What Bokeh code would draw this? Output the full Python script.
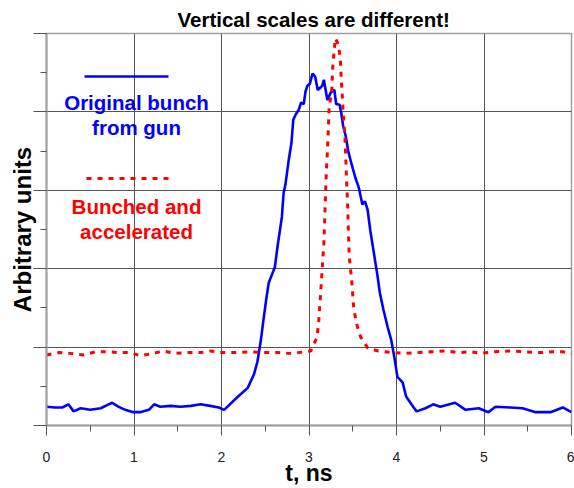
from bokeh.plotting import figure
from bokeh.models import Label, Arrow, Range1d, SingleIntervalTicker, CustomLabelingPolicy
from bokeh.embed import file_html
from bokeh.resources import INLINE

# ---------------- data ----------------
title_text = "Vertical scales are different!"
x_label = "t, ns"
y_label = "Arbitrary units"
gun_label = ["Original bunch", "from gun"]
acc_label = ["Bunched and", "accelerated"]

t_gun = [0.00, 0.10, 0.18, 0.25, 0.31, 0.39, 0.50, 0.62, 0.71, 0.75, 0.82, 0.90, 0.99,
         1.07, 1.17, 1.23, 1.30, 1.42, 1.53, 1.65, 1.76, 1.87, 1.97, 2.03, 2.18, 2.30,
         2.37, 2.41, 2.45, 2.48, 2.51, 2.54, 2.61, 2.64, 2.69, 2.71, 2.73, 2.77, 2.80,
         2.82, 2.85, 2.88, 2.91, 2.94, 2.96, 2.98, 3.01, 3.04, 3.07, 3.10, 3.15, 3.17,
         3.19, 3.21, 3.25, 3.29, 3.31, 3.35, 3.37, 3.39, 3.42, 3.45, 3.49, 3.53, 3.57,
         3.61, 3.64, 3.67, 3.70, 3.74, 3.78, 3.81, 3.85, 3.90, 3.94, 3.98, 4.01, 4.07,
         4.11, 4.19, 4.23, 4.33, 4.42, 4.50, 4.67, 4.79, 4.94, 5.05, 5.13, 5.30, 5.44,
         5.59, 5.76, 5.90, 6.00]
v_gun = [0.24, 0.23, 0.23, 0.27, 0.18, 0.22, 0.20, 0.22, 0.27, 0.29, 0.24, 0.20, 0.17,
         0.17, 0.20, 0.27, 0.24, 0.25, 0.24, 0.25, 0.27, 0.25, 0.23, 0.20, 0.36, 0.48,
         0.65, 0.81, 1.09, 1.35, 1.60, 1.82, 2.02, 2.28, 2.66, 2.97, 3.07, 3.40, 3.61,
         3.90, 3.97, 4.02, 4.12, 4.10, 4.26, 4.33, 4.36, 4.49, 4.45, 4.28, 4.33, 4.41,
         4.28, 4.15, 4.25, 4.28, 4.10, 4.09, 3.98, 3.82, 3.69, 3.49, 3.32, 3.16, 3.03,
         2.82, 2.86, 2.75, 2.49, 2.21, 1.93, 1.69, 1.48, 1.25, 1.09, 0.84, 0.62, 0.55,
         0.37, 0.24, 0.18, 0.22, 0.27, 0.24, 0.29, 0.20, 0.22, 0.17, 0.24, 0.23, 0.22,
         0.17, 0.17, 0.23, 0.17]

t_acc = [0.00, 0.14, 0.27, 0.42, 0.56, 0.71, 0.82, 0.96, 1.07, 1.22, 1.34, 1.47, 1.59,
         1.76, 1.87, 2.01, 2.16, 2.33, 2.50, 2.65, 2.77, 2.88, 3.02, 3.09, 3.11, 3.13,
         3.15, 3.17, 3.18, 3.19, 3.20, 3.21, 3.22, 3.23, 3.26, 3.27, 3.30, 3.34, 3.36,
         3.37, 3.38, 3.39, 3.41, 3.42, 3.43, 3.44, 3.45, 3.46, 3.49, 3.51, 3.54, 3.59,
         3.67, 3.79, 3.97, 4.10, 4.25, 4.39, 4.56, 4.71, 4.85, 4.96, 5.11, 5.30, 5.47,
         5.65, 5.78, 5.90, 6.00]
v_acc = [0.90, 0.93, 0.92, 0.90, 0.94, 0.94, 0.93, 0.93, 0.89, 0.92, 0.95, 0.92, 0.93,
         0.93, 0.95, 0.93, 0.93, 0.94, 0.93, 0.93, 0.92, 0.93, 0.95, 1.12, 1.31, 1.64,
         1.98, 2.33, 2.66, 2.98, 3.28, 3.49, 3.74, 4.06, 4.25, 4.55, 4.94, 4.85, 4.63,
         4.38, 4.21, 3.99, 3.70, 3.41, 3.10, 2.86, 2.49, 2.15, 1.82, 1.51, 1.31, 1.13,
         0.99, 0.95, 0.93, 0.92, 0.93, 0.94, 0.95, 0.93, 0.94, 0.92, 0.94, 0.95, 0.94,
         0.93, 0.94, 0.94, 0.92]

x_min, x_max = 0, 6
y_min, y_max = 0, 5

# ---------------- figure ----------------
FONT = "Liberation Sans"
BLUE = "#0000ff"
RED = "#ff0000"

p = figure(width=574, height=488, output_backend="svg", toolbar_location=None,
           x_range=Range1d(x_min, x_max), y_range=Range1d(y_min, y_max),
           min_border_left=46, min_border_right=3, min_border_top=33, min_border_bottom=62,
           background_fill_color="white", border_fill_color="white")

p.title.text = title_text
p.title.align = "left"
p.title.offset = 131
p.title.standoff = 6
p.title.text_font = FONT
p.title.text_font_size = "20.5px"
p.title.text_font_style = "bold"
p.title.text_color = "black"

p.outline_line_color = "#a0a0a0"
p.outline_line_width = 1.5

p.xaxis.ticker = SingleIntervalTicker(interval=1, num_minor_ticks=2)
p.yaxis.ticker = SingleIntervalTicker(interval=1, num_minor_ticks=2)

p.grid.grid_line_color = "#555555"
p.grid.grid_line_width = 1

for ax in (p.xaxis[0], p.yaxis[0]):
    ax.axis_line_color = "#a0a0a0"
    ax.axis_line_width = 2
    ax.major_tick_line_color = "#555555"
    ax.minor_tick_line_color = "#555555"
    ax.major_tick_in = 0
    ax.minor_tick_in = 0
    ax.axis_label_text_font = FONT
    ax.axis_label_text_font_style = "bold"
    ax.axis_label_text_color = "black"

p.xaxis.major_tick_out = 10
p.xaxis.minor_tick_out = 6
p.xaxis.major_label_text_font = FONT
p.xaxis.major_label_text_font_size = "14px"
p.xaxis.major_label_text_color = "#222222"
p.xaxis.major_label_standoff = 16
p.xaxis.axis_label = x_label
p.xaxis.axis_label_text_font_size = "23px"
p.xaxis.axis_label_standoff = -5

p.yaxis.major_tick_out = 13
p.yaxis.minor_tick_out = 6
p.yaxis.major_label_policy = CustomLabelingPolicy(
    code="for (const i of indices) { indices.unset(i) }\nreturn indices")
p.yaxis.major_label_standoff = 0
p.yaxis.axis_label = y_label
p.yaxis.axis_label_text_font_size = "24px"
p.yaxis.axis_label_standoff = -12

p.line(t_gun, v_gun, line_color=BLUE, line_width=2.6)
p.line(t_acc, v_acc, line_color=RED, line_width=3, line_dash="5 6")

# ---------------- legend (screen units, relative to the frame) ----------------
p.add_layout(Arrow(end=None, x_start=38, y_start=349, x_end=122, y_end=349,
                   start_units="screen", end_units="screen",
                   line_color=BLUE, line_width=2.6))
p.add_layout(Arrow(end=None, x_start=40, y_start=247, x_end=124, y_end=247,
                   start_units="screen", end_units="screen",
                   line_color=RED, line_width=3, line_dash="5 6"))

for txt, yb, col in [(gun_label[0], 323, BLUE), (gun_label[1], 298, BLUE),
                     (acc_label[0], 219, RED), (acc_label[1], 194, RED)]:
    p.add_layout(Label(x=90, y=yb, x_units="screen", y_units="screen", text=txt,
                       text_align="center", text_baseline="alphabetic",
                       text_font=FONT, text_font_size="20.5px", text_font_style="bold",
                       text_color=col))

open("out.html", "w").write(file_html(p, INLINE))
